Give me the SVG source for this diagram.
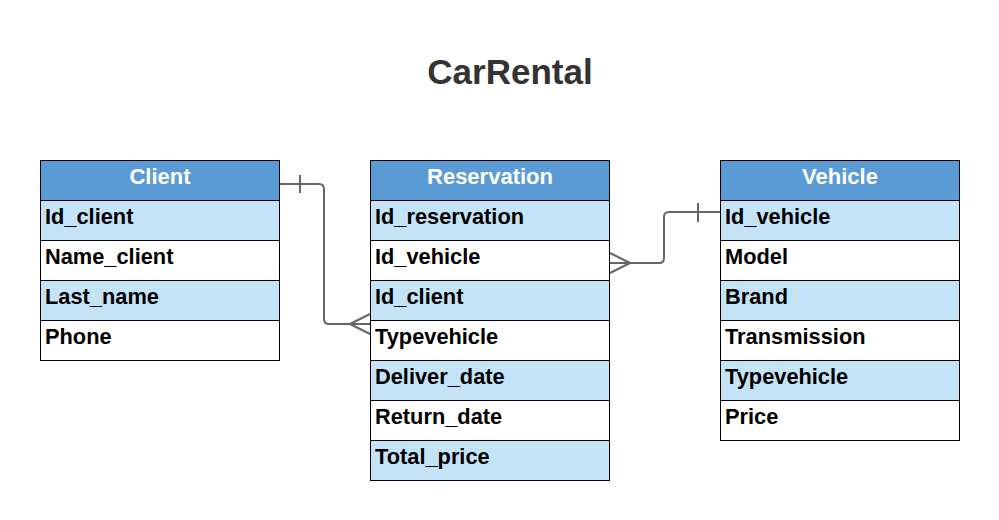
<svg xmlns="http://www.w3.org/2000/svg" width="999" height="520" viewBox="0 0 999 520">
<style>
.hdr{fill:#5b9bd5;stroke:#000;stroke-width:1}
.r1{fill:#c5e3f7;stroke:#000;stroke-width:1}
.r0{fill:#ffffff;stroke:#000;stroke-width:1}
.ht{font-family:"Liberation Sans",Arial,sans-serif;font-weight:bold;font-size:22px;fill:#fff;text-anchor:middle}
.t{font-family:"Liberation Sans",Arial,sans-serif;font-weight:bold;font-size:21.8px;fill:#000}
.title{font-family:"Liberation Sans",Arial,sans-serif;font-weight:bold;font-size:35px;fill:#333;text-anchor:middle}
.c{fill:none;stroke:#666;stroke-width:2}
</style>
<rect width="999" height="520" fill="#fff"/>
<text class="title" x="510" y="84">CarRental</text>
<g id="client">
<rect class="hdr" x="40.5" y="160.5" width="239" height="40"/>
<text class="ht" x="160" y="184">Client</text>
<rect class="r1" x="40.5" y="200.5" width="239" height="40"/>
<text class="t" x="45" y="224">Id_client</text>
<rect class="r0" x="40.5" y="240.5" width="239" height="40"/>
<text class="t" x="45" y="264">Name_client</text>
<rect class="r1" x="40.5" y="280.5" width="239" height="40"/>
<text class="t" x="45" y="304">Last_name</text>
<rect class="r0" x="40.5" y="320.5" width="239" height="40"/>
<text class="t" x="45" y="344">Phone</text>
</g>
<g id="reservation">
<rect class="hdr" x="370.5" y="160.5" width="239" height="40"/>
<text class="ht" x="490" y="184">Reservation</text>
<rect class="r1" x="370.5" y="200.5" width="239" height="40"/>
<text class="t" x="375" y="224">Id_reservation</text>
<rect class="r0" x="370.5" y="240.5" width="239" height="40"/>
<text class="t" x="375" y="264">Id_vehicle</text>
<rect class="r1" x="370.5" y="280.5" width="239" height="40"/>
<text class="t" x="375" y="304">Id_client</text>
<rect class="r0" x="370.5" y="320.5" width="239" height="40"/>
<text class="t" x="375" y="344">Typevehicle</text>
<rect class="r1" x="370.5" y="360.5" width="239" height="40"/>
<text class="t" x="375" y="384">Deliver_date</text>
<rect class="r0" x="370.5" y="400.5" width="239" height="40"/>
<text class="t" x="375" y="424">Return_date</text>
<rect class="r1" x="370.5" y="440.5" width="239" height="40"/>
<text class="t" x="375" y="464">Total_price</text>
</g>
<g id="vehicle">
<rect class="hdr" x="720.5" y="160.5" width="239" height="40"/>
<text class="ht" x="840" y="184">Vehicle</text>
<rect class="r1" x="720.5" y="200.5" width="239" height="40"/>
<text class="t" x="725" y="224">Id_vehicle</text>
<rect class="r0" x="720.5" y="240.5" width="239" height="40"/>
<text class="t" x="725" y="264">Model</text>
<rect class="r1" x="720.5" y="280.5" width="239" height="40"/>
<text class="t" x="725" y="304">Brand</text>
<rect class="r0" x="720.5" y="320.5" width="239" height="40"/>
<text class="t" x="725" y="344">Transmission</text>
<rect class="r1" x="720.5" y="360.5" width="239" height="40"/>
<text class="t" x="725" y="384">Typevehicle</text>
<rect class="r0" x="720.5" y="400.5" width="239" height="40"/>
<text class="t" x="725" y="424">Price</text>
</g>
<g id="connectors">
<path class="c" d="M280,184 H319 Q324,184 324,189 V319 Q324,324 329,324 H370"/>
<path class="c" d="M300,175 V193"/>
<path class="c" d="M350,324 L370,314 M350,324 L370,334"/>
<path class="c" d="M720,212 H669 Q664,212 664,217 V258 Q664,263 659,263 H610"/>
<path class="c" d="M698,203 V222"/>
<path class="c" d="M630,263 L610,253 M630,263 L610,273"/>
</g>
</svg>
